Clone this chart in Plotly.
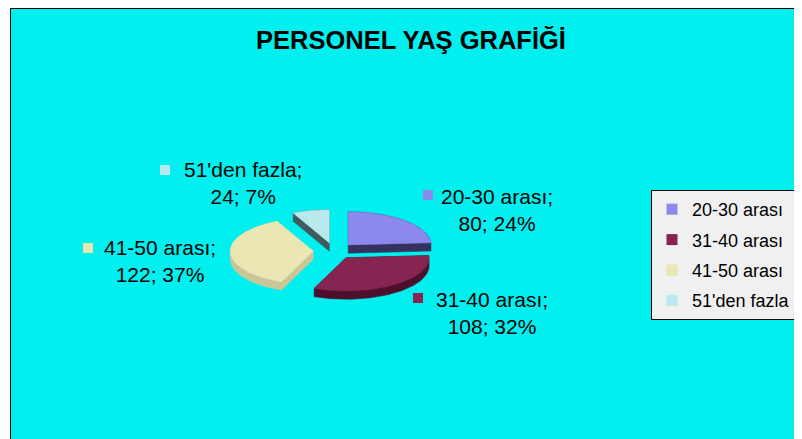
import numpy as np
import plotly.graph_objects as go

# data
labels = ["20-30 arası", "31-40 arası", "41-50 arası", "51'den fazla"]
counts = [80, 108, 122, 24]
top_colors = ["#8C88EC", "#862452", "#EAE7B5", "#B9E9EC"]
side_colors = ["#34335F", "#4C102C", "#C9C69A", "#3E5C5E"]

# layout constants (pixels in the 802x439 reference image)
OFF = 8                    # page body margin
W, H = 802 - OFF, 439 - OFF
label_px = [(497, 210), (492, 313), (160, 261), (243, 183)]
square_px = [(428, 195), (418, 298), (88, 248), (165, 170)]
pie_center = (334, 251)
unit = 83          # pie radius in px
tilt = 0.4         # ellipse squash
depth = 0.1        # thickness in radius units
pull = 0.25        # explode distance in radius units


def px_x(x):
    return (x - OFF) / W


def px_y(y):
    return 1 - (y - OFF) / H


def hull(pts):
    pts = sorted(set((round(a, 6), round(b, 6)) for a, b in pts))

    def cross(o, a, b):
        return (a[0] - o[0]) * (b[1] - o[1]) - (a[1] - o[1]) * (b[0] - o[0])
    lower, upper = [], []
    for p in pts:
        while len(lower) >= 2 and cross(lower[-2], lower[-1], p) <= 0:
            lower.pop()
        lower.append(p)
    for p in reversed(pts):
        while len(upper) >= 2 and cross(upper[-2], upper[-1], p) <= 0:
            upper.pop()
        upper.append(p)
    h = lower[:-1] + upper[:-1]
    h.append(h[0])
    return h


total = sum(counts)
fracs = np.array(counts) / total
ends = 90 - 360 * np.cumsum(fracs)
starts = ends + 360 * fracs
mids = np.radians((starts + ends) / 2)
pcts = [int(round(f * 100)) for f in fracs]

fig = go.Figure()

# slices drawn back to front: side (extruded hull) first, then the top face
order = sorted(range(len(counts)), key=lambda i: -np.sin(mids[i]))
for i in order:
    t = np.radians(np.linspace(starts[i], ends[i], 80))
    cx = pull * np.cos(mids[i])
    cy = pull * tilt * np.sin(mids[i])
    xs = np.concatenate([[cx], cx + np.cos(t), [cx]])
    ys = np.concatenate([[cy], cy + tilt * np.sin(t), [cy]])
    pts = list(zip(xs, ys)) + list(zip(xs, ys - depth))
    h = hull(pts)
    hover = f"{labels[i]}; {counts[i]}; {pcts[i]}%"
    fig.add_trace(go.Scatter(
        x=[p[0] for p in h], y=[p[1] for p in h], mode="lines", fill="toself",
        fillcolor=side_colors[i], line=dict(width=0.5, color=side_colors[i]),
        hoverinfo="text", text=hover, showlegend=False))
    fig.add_trace(go.Scatter(
        x=xs, y=ys, mode="lines", fill="toself",
        fillcolor=top_colors[i], line=dict(width=0.5, color=top_colors[i]),
        hoverinfo="text", text=hover, showlegend=False))

# legend entries
for i in range(len(labels)):
    fig.add_trace(go.Scatter(
        x=[None], y=[None], mode="markers", name=labels[i],
        legendgroup=labels[i],
        marker=dict(symbol="square", size=11, color=top_colors[i])))

annotations = []
shapes = [dict(type="rect", xref="paper", yref="paper",
               x0=px_x(10.5), x1=1.02, y0=-0.02, y1=px_y(8.5),
               fillcolor="#00F0F0", line=dict(color="black", width=1),
               layer="below")]
for i in range(len(labels)):
    lx, ly = label_px[i]
    annotations.append(dict(
        x=px_x(lx), y=px_y(ly), xref="paper", yref="paper",
        text=f"{labels[i]};<br>{counts[i]}; {pcts[i]}%",
        showarrow=False, xanchor="center", yanchor="middle", align="center",
        font=dict(family="Liberation Sans, Arial", size=21, color="black")))
    sx, sy = square_px[i]
    shapes.append(dict(type="rect", xref="paper", yref="paper",
                       x0=px_x(sx - 5), x1=px_x(sx + 5),
                       y0=px_y(sy + 5), y1=px_y(sy - 5),
                       fillcolor=top_colors[i], line=dict(width=0)))

cxp, cyp = pie_center
half = 2 * unit
fig.update_layout(
    width=W, height=H,
    margin=dict(l=0, r=0, t=0, b=0),
    paper_bgcolor="white",
    plot_bgcolor="rgba(0,0,0,0)",
    title=dict(text="PERSONEL YAŞ GRAFİĞİ", x=px_x(411), y=px_y(40),
               xanchor="center", yanchor="middle",
               font=dict(family="Liberation Sans, Arial", size=25.5,
                         color="black", weight="bold")),
    xaxis=dict(domain=[px_x(cxp - half), px_x(cxp + half)], range=[-2, 2],
               visible=False, fixedrange=True),
    yaxis=dict(domain=[px_y(cyp + half), px_y(cyp - half)], range=[-2, 2],
               visible=False, fixedrange=True),
    showlegend=True,
    legend=dict(x=px_x(651), y=px_y(190), xanchor="left", yanchor="top",
                bgcolor="#F0F0F0", bordercolor="black", borderwidth=1,
                traceorder="grouped", tracegroupgap=4, itemwidth=30,
                font=dict(family="Liberation Sans, Arial", size=18,
                          color="black")),
    shapes=shapes,
    annotations=annotations,
)

fig.write_html("out.html")
